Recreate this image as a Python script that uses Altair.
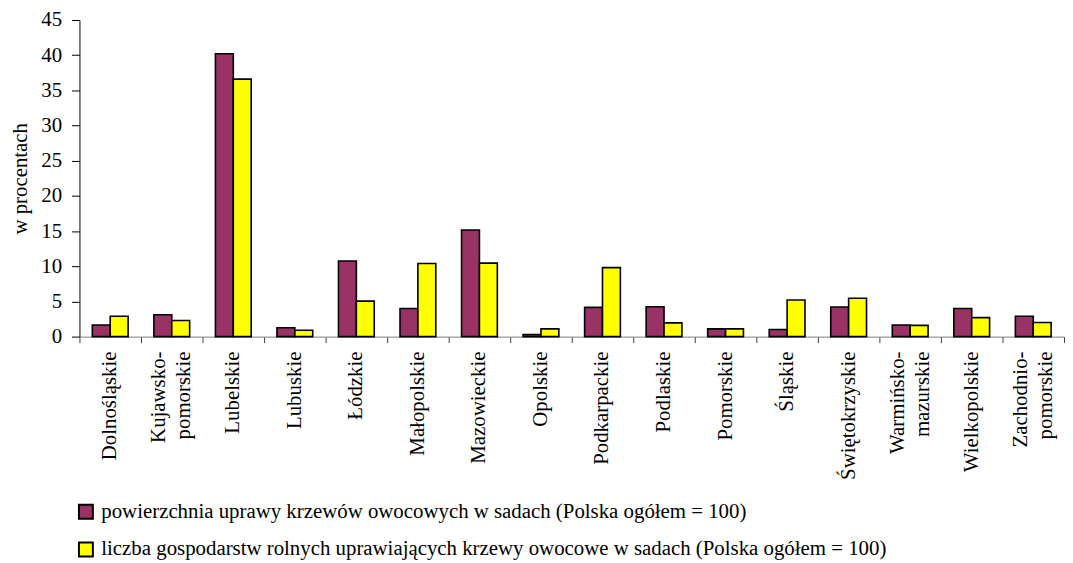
import altair as alt
import pandas as pd

regions = ["Dolnośląskie", "Kujawsko-\npomorskie", "Lubelskie", "Lubuskie", "Łódzkie",
           "Małopolskie", "Mazowieckie", "Opolskie", "Podkarpackie", "Podlaskie",
           "Pomorskie", "Śląskie", "Świętokrzyskie", "Warmińsko-\nmazurskie",
           "Wielkopolskie", "Zachodnio-\npomorskie"]
area = [1.65, 3.1, 40.2, 1.25, 10.75, 4.0, 15.15, 0.3, 4.15, 4.25, 1.1, 1.0, 4.2, 1.65, 4.0, 2.9]
farms = [2.9, 2.3, 36.6, 0.9, 5.05, 10.4, 10.45, 1.1, 9.8, 1.95, 1.1, 5.2, 5.45, 1.6, 2.7, 2.0]
series = ["powierzchnia uprawy krzewów owocowych w sadach (Polska ogółem = 100)",
          "liczba gospodarstw rolnych uprawiających krzewy owocowe w sadach (Polska ogółem = 100)"]
colors = ["#993366", "#FFFF00"]
y_ticks = [0, 5, 10, 15, 20, 25, 30, 35, 40, 45]

rows = []
for r, a, f in zip(regions, area, farms):
    rows.append({"region": r, "series": series[0], "value": a})
    rows.append({"region": r, "series": series[1], "value": f})
df = pd.DataFrame(rows)

lab_rows = []
for r in regions:
    parts = r.split("\n")
    lab_rows.append({"region": r, "line1": parts[0],
                     "line2": parts[1] if len(parts) > 1 else "",
                     "two": len(parts) > 1})
labels_df = pd.DataFrame(lab_rows)

font = "Liberation Serif"
fs = 21
label_y = 334
half_lh = 12.5

x_enc = alt.X("region:N", sort=regions, title=None,
              scale=alt.Scale(domain=regions, paddingInner=0, paddingOuter=0),
              axis=alt.Axis(labels=False, tickBand="extent", tickSize=6, tickColor="#404040",
                            domainColor="#808080"))

bars = alt.Chart(df).mark_bar(stroke="black", strokeWidth=1.6).encode(
    x=x_enc,
    xOffset=alt.XOffset("series:N", sort=series,
                        scale=alt.Scale(domain=series, paddingInner=0, paddingOuter=0.72)),
    y=alt.Y("value:Q", scale=alt.Scale(domain=[0, 45]),
            axis=alt.Axis(values=y_ticks, title="w procentach", grid=False,
                          labelFont=font, labelFontSize=fs, labelColor="black",
                          titleFont=font, titleFontSize=fs, titleFontWeight="normal",
                          titleColor="black", titlePadding=10, tickSize=8,
                          tickColor="black", domainColor="black", labelPadding=10)),
    color=alt.Color("series:N", sort=series,
                    scale=alt.Scale(domain=series, range=colors),
                    legend=alt.Legend(orient="none", legendX=-4, legendY=485, title=None,
                                      direction="vertical", symbolType="square",
                                      symbolSize=196, symbolStrokeColor="black",
                                      symbolStrokeWidth=2, symbolOpacity=1,
                                      labelFont=font, labelFontSize=fs, labelColor="black",
                                      labelLimit=1000, rowPadding=15, labelOffset=5))
)

text_props = dict(angle=270, align="right", baseline="middle", font=font, fontSize=fs,
                  color="black")
base = alt.Chart(labels_df)
single = base.transform_filter("!datum.two").mark_text(**text_props).encode(
    x=alt.X("region:N", sort=regions, scale=alt.Scale(domain=regions)),
    y=alt.value(label_y), text="line1:N")
first = base.transform_filter("datum.two").mark_text(dy=-half_lh, **text_props).encode(
    x=alt.X("region:N", sort=regions, scale=alt.Scale(domain=regions)),
    y=alt.value(label_y), text="line1:N")
second = base.transform_filter("datum.two").mark_text(dy=half_lh, **text_props).encode(
    x=alt.X("region:N", sort=regions, scale=alt.Scale(domain=regions)),
    y=alt.value(label_y), text="line2:N")

chart = alt.layer(bars, single, first, second).properties(
    width=992, height=319, autosize="none",
    padding={"left": 72, "top": 10, "right": 1, "bottom": 226}
).configure_view(stroke=None)

chart.save("out.html", embed_options={"renderer": "svg", "actions": False})
